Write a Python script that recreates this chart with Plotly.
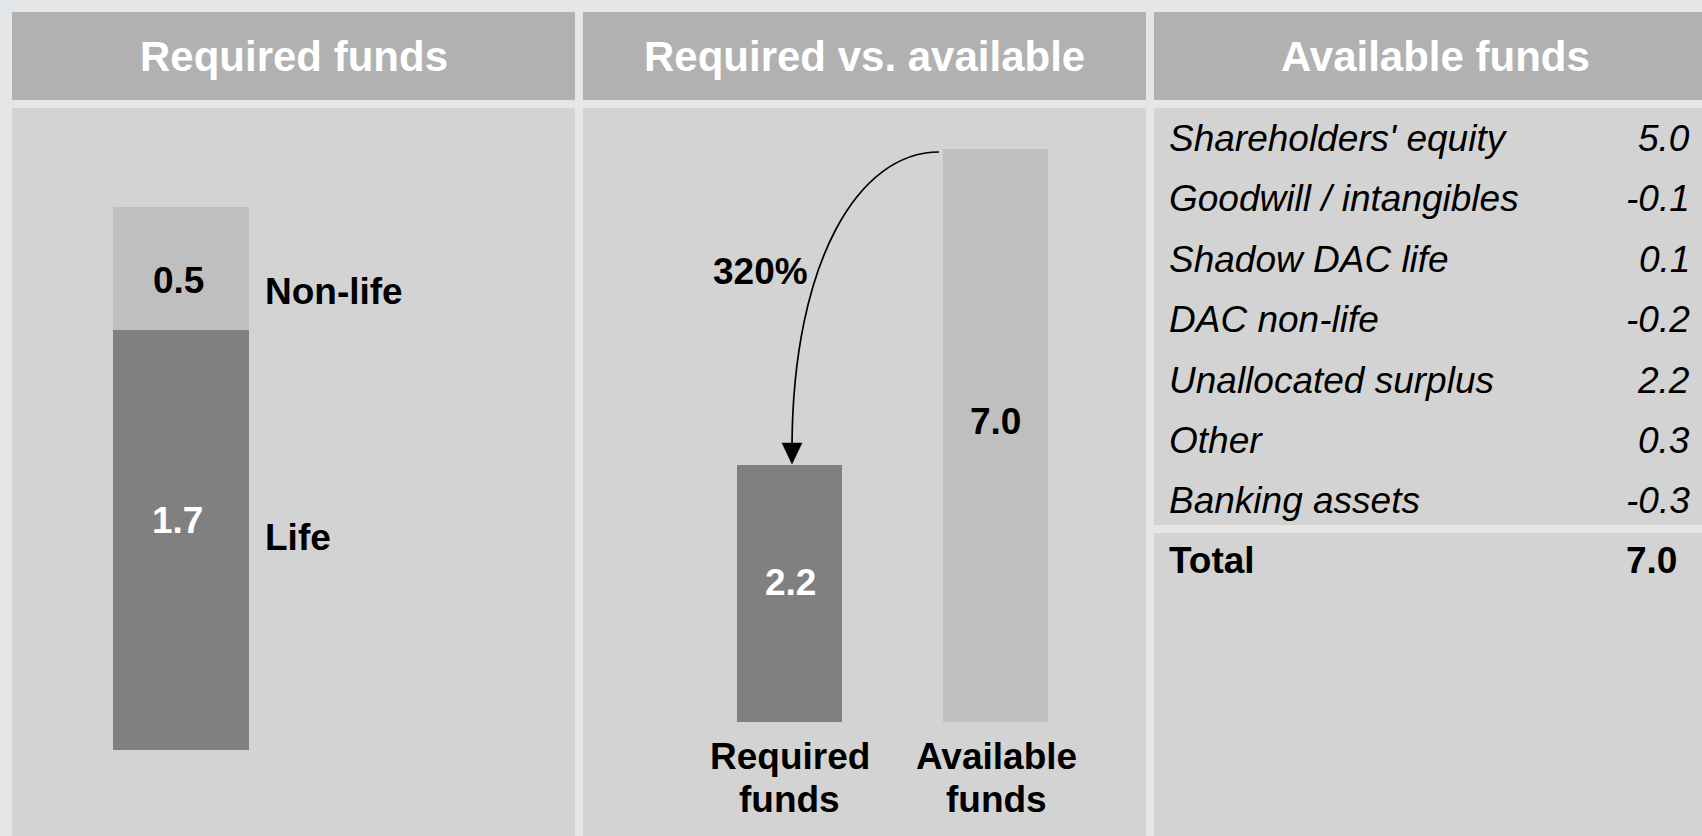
import plotly.graph_objects as go

W, H = 1702, 836

# ---------------- data ----------------
panel_titles = ["Required funds", "Required vs. available", "Available funds"]

req_segments = ["Life", "Non-life"]
req_values = [1.7, 0.5]

cmp_categories = ["Required funds", "Available funds"]
cmp_values = [2.2, 7.0]
coverage_label = "320%"

avail_items = ["Shareholders' equity", "Goodwill / intangibles", "Shadow DAC life",
               "DAC non-life", "Unallocated surplus", "Other", "Banking assets"]
avail_values = [5.0, -0.1, 0.1, -0.2, 2.2, 0.3, -0.3]
avail_total_label = "Total"
avail_total = 7.0

# ---------------- style ----------------
FONT = "Liberation Sans, Arial, sans-serif"
DARK = "#808080"
LIGHT = "#bfbfbf"
HEAD = "#b1b1b1"
BODY = "#d3d3d3"
GAP = "#e6e6e6"
OUTER = "#e3e7ea"
BFS = 37  # body font size


def px(x):
    return x / W


def py(y):
    return 1 - y / H


fig = go.Figure()

# Panel 1: stacked bar (linear scale)
seg_colors = [DARK, LIGHT]
for name, val, col in zip(req_segments, req_values, seg_colors):
    fig.add_trace(go.Bar(x=[0], y=[val], name=name, width=1, marker=dict(color=col, line=dict(width=0)),
                         xaxis="x", yaxis="y", hoverinfo="skip", showlegend=False))

# Panel 2: required vs available
fig.add_trace(go.Bar(x=list(range(len(cmp_categories))), y=cmp_values, width=0.508,
                     marker=dict(color=[DARK, LIGHT], line=dict(width=0)),
                     xaxis="x2", yaxis="y2", hoverinfo="skip", showlegend=False))

shapes = []
# background frame
shapes.append(dict(type="rect", xref="paper", yref="paper", x0=px(10), x1=1, y0=0, y1=py(10),
                   fillcolor=GAP, line=dict(width=0), layer="below"))
panels_x = [(12, 575), (583, 1146), (1154, 1702)]
for (a, b) in panels_x:
    shapes.append(dict(type="rect", xref="paper", yref="paper", x0=px(a), x1=px(b), y0=py(100), y1=py(12),
                       fillcolor=HEAD, line=dict(width=0), layer="below"))
for (a, b) in panels_x[:2]:
    shapes.append(dict(type="rect", xref="paper", yref="paper", x0=px(a), x1=px(b), y0=0, y1=py(108),
                       fillcolor=BODY, line=dict(width=0), layer="below"))
a, b = panels_x[2]
shapes.append(dict(type="rect", xref="paper", yref="paper", x0=px(a), x1=px(b), y0=py(525), y1=py(108),
                   fillcolor=BODY, line=dict(width=0), layer="below"))
shapes.append(dict(type="rect", xref="paper", yref="paper", x0=px(a), x1=px(b), y0=0, y1=py(533),
                   fillcolor=BODY, line=dict(width=0), layer="below"))

# curved arrow from available bar top to required bar top
def pt(x, y):
    return f"{px(x):.5f},{py(y):.5f}"

path = f"M {pt(939,152)} C {pt(858,152)} {pt(793,262)} {pt(792,446)}"
shapes.append(dict(type="path", xref="paper", yref="paper", path=path,
                   line=dict(color="black", width=1.7), layer="above"))
shapes.append(dict(type="path", xref="paper", yref="paper",
                   path=f"M {pt(782,443)} L {pt(802,443)} L {pt(792,464)} Z",
                   fillcolor="black", line=dict(color="black", width=0.5), layer="above"))

annotations = []


def ann(text, x, y, size=BFS, color="black", xanchor="center", xref="paper", **kw):
    annotations.append(dict(text=text, x=x, y=y, xref=xref, yref="paper", xanchor=xanchor,
                            yanchor="middle", showarrow=False,
                            font=dict(family=FONT, size=size, color=color), **kw))


# header titles
title_x = [294, 864.5, 1435]
for t, cx in zip(panel_titles, title_x):
    ann(f"<b>{t}</b>", px(cx), py(56.5), size=42, color="white")

# panel 1 labels
ann(f"<b>{req_values[1]:.1f}</b>", px(178), py(280))
ann(f"<b>{req_values[0]:.1f}</b>", px(177.5), py(520), color="white")
ann(f"<b>{req_segments[1]}</b>", px(263), py(292), xanchor="left")
ann(f"<b>{req_segments[0]}</b>", px(263), py(537), xanchor="left")

# panel 2 labels
ann(f"<b>{coverage_label}</b>", px(760), py(271.5))
ann(f"<b>{cmp_values[1]:.1f}</b>", px(995), py(421.5))
ann(f"<b>{cmp_values[0]:.1f}</b>", px(790), py(582.5), color="white")
for i, cat in enumerate(cmp_categories):
    l1, l2 = cat.split(" ", 1)
    ann(f"<b>{l1}</b>", i, py(756.5), xref="x2")
    ann(f"<b>{l2}</b>", i, py(799), xref="x2")

# panel 3 table
row0, step = 138.5, 60.4
for i, (item, v) in enumerate(zip(avail_items, avail_values)):
    y = row0 + i * step
    ann(f"<i>{item}</i>", px(1167), py(y), xanchor="left")
    ann(f"<i>{v:.1f}</i>", px(1692), py(y), xanchor="right")
ann(f"<b>{avail_total_label}</b>", px(1167), py(560.5), xanchor="left")
ann(f"<b>{avail_total:.1f}</b>", px(1679), py(560.5), xanchor="right")

hidden = dict(visible=False, showgrid=False, zeroline=False, fixedrange=True)

fig.update_layout(
    width=W, height=H, autosize=False,
    margin=dict(l=0, r=0, t=0, b=0, pad=0),
    paper_bgcolor=OUTER, plot_bgcolor="rgba(0,0,0,0)",
    barmode="stack", bargap=0,
    xaxis=dict(domain=[px(113), px(249)], range=[-0.5, 0.5], anchor="y", **hidden),
    yaxis=dict(domain=[py(750), py(108)], range=[0, 642 / 247], anchor="x", **hidden),
    xaxis2=dict(domain=[px(686.25), px(1099.25)], range=[-0.5, 1.5], anchor="y2", **hidden),
    yaxis2=dict(domain=[py(722), py(108)], type="log", range=[-0.0667, 0.9095], anchor="x2", **hidden),
    shapes=shapes,
    annotations=annotations,
    font=dict(family=FONT),
)

fig.write_html("out.html")
